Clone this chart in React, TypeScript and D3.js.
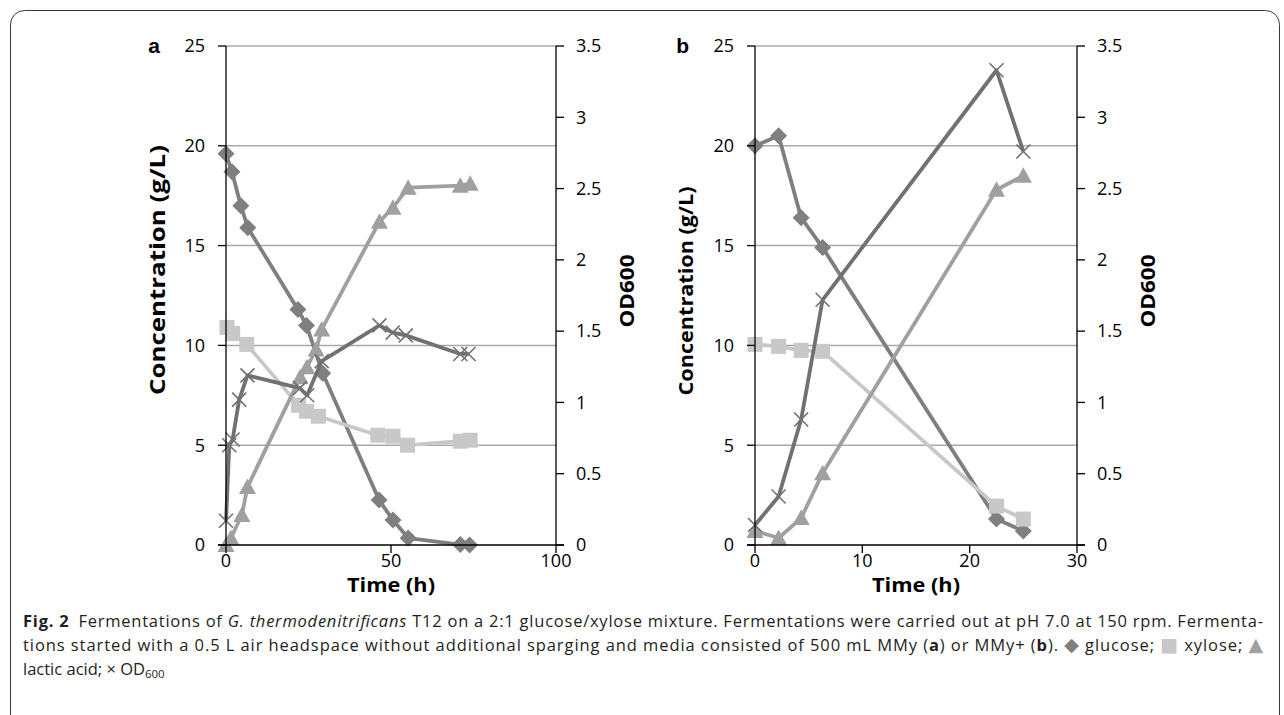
import React from 'react';
import * as d3 from 'd3';

// panel a (MMy)
const aGlucoseT = [0, 1.8, 4.5, 6.6, 21.8, 24.4, 29.3, 46.4, 50.6, 55.2, 71, 73.8];
const aGlucose = [19.6, 18.7, 17.0, 15.9, 11.8, 11.0, 8.6, 2.25, 1.25, 0.35, 0.02, 0.0];
const aXyloseT = [0.3, 2, 6.3, 22, 24.4, 28, 46, 50.6, 55, 71, 74];
const aXylose = [10.9, 10.6, 10.05, 7.0, 6.7, 6.45, 5.5, 5.45, 5.0, 5.2, 5.25];
const aLacticT = [0, 1.5, 4.8, 6.5, 22.5, 24.5, 27.3, 29, 46.5, 50.6, 55.2, 71, 74];
const aLactic = [0, 0.35, 1.5, 2.9, 8.4, 8.9, 9.8, 10.8, 16.2, 16.9, 17.9, 18.0, 18.1];
const aOdT = [0, 1, 2, 4, 6.5, 22.4, 24.6, 29, 46.5, 50.5, 54.5, 71, 73.5];
const aOd = [0.17, 0.7, 0.74, 1.02, 1.19, 1.1, 1.05, 1.29, 1.54, 1.49, 1.47, 1.34, 1.34];

// panel b (MMy+)
const bTime = [0, 2.2, 4.3, 6.3, 22.5, 25];
const bGlucose = [20.0, 20.5, 16.4, 14.9, 1.3, 0.7];
const bXylose = [10.05, 9.95, 9.75, 9.7, 1.95, 1.3];
const bLactic = [0.7, 0.35, 1.35, 3.6, 17.8, 18.5];
const bOd = [0.14, 0.34, 0.88, 1.72, 3.33, 2.76];

const concTicks = [0, 5, 10, 15, 20, 25];
const odTicks = [0, 0.5, 1, 1.5, 2, 2.5, 3, 3.5];
const aTimeTicks = [0, 50, 100];
const bTimeTicks = [0, 10, 20, 30];

const FONT = "'Open Sans', sans-serif";
const C_GLU = '#7f7f7f';
const C_XYL = '#c8c8c8';
const C_LAC = '#a0a0a0';
const C_OD = '#717171';

const TOP = 46;
const BOTTOM = 545;

const zip = (t: number[], v: number[]) => t.map((d, i) => [d, v[i]] as [number, number]);

function Marker({ kind, color }: { kind: string; color: string }) {
  if (kind === 'diamond') return <path d="M0,-8.5L8.5,0L0,8.5L-8.5,0Z" fill={color} />;
  if (kind === 'square') return <rect x={-7.5} y={-7.5} width={15} height={15} fill={color} />;
  if (kind === 'triangle') return <path d="M0,-8.5L8.5,7L-8.5,7Z" fill={color} />;
  return <path d="M-7,-7L7,7M-7,7L7,-7" stroke={color} strokeWidth={1.6} fill="none" />;
}

function Panel({ label, left, right, xMax, xTicks, series, concSize, concLen, concY }: any) {
  const x = d3.scaleLinear().domain([0, xMax]).range([left, right]);
  const y = d3.scaleLinear().domain([0, 25]).range([BOTTOM, TOP]);
  const y2 = d3.scaleLinear().domain([0, 3.5]).range([BOTTOM, TOP]);
  const mid = (left + right) / 2;

  return (
    <g fontFamily={FONT}>
      {concTicks.slice(1).map(t => (
        <line key={t} x1={left} x2={right} y1={y(t)} y2={y(t)} stroke="#a9a9a9" strokeWidth={1.5} />
      ))}
      {series.map((s: any, i: number) => {
        const sy = s.od ? y2 : y;
        const line = d3.line<[number, number]>().x(d => x(d[0])).y(d => sy(d[1]));
        return (
          <g key={i}>
            <path d={line(s.data) || ''} fill="none" stroke={s.lineColor} strokeWidth={3.8} strokeLinejoin="round" />
            {s.data.map((d: [number, number], j: number) => (
              <g key={j} transform={`translate(${x(d[0])},${sy(d[1])})`}>
                <Marker kind={s.kind} color={s.color} />
              </g>
            ))}
          </g>
        );
      })}
      <line x1={left} x2={left} y1={BOTTOM} y2={TOP} stroke="#000" strokeWidth={1.3} />
      <line x1={right} x2={right} y1={BOTTOM} y2={TOP} stroke="#000" strokeWidth={1.3} />
      <line x1={left - 8} x2={right + 8} y1={BOTTOM} y2={BOTTOM} stroke="#000" strokeWidth={1.3} />
      {concTicks.map(t => (
        <g key={t}>
          <line x1={left - 8} x2={left} y1={y(t)} y2={y(t)} stroke="#000" strokeWidth={1.3} />
          <text x={left - 21} y={y(t)} dy="0.35em" textAnchor="end" fontSize={18}>{t}</text>
        </g>
      ))}
      {odTicks.map(t => (
        <g key={t}>
          <line x1={right} x2={right + 8} y1={y2(t)} y2={y2(t)} stroke="#000" strokeWidth={1.3} />
          <text x={right + 20} y={y2(t)} dy="0.35em" textAnchor="start" fontSize={18}>{t}</text>
        </g>
      ))}
      {xTicks.map((t: number) => (
        <g key={t}>
          <line x1={x(t)} x2={x(t)} y1={BOTTOM} y2={BOTTOM + 8} stroke="#000" strokeWidth={1.3} />
          <text x={x(t)} y={561} dy="0.35em" textAnchor="middle" fontSize={18}>{t}</text>
        </g>
      ))}
      <text x={left - 66} y={TOP} dy="0.35em" textAnchor="end" fontSize={21} fontWeight="bold" fontFamily="'Liberation Sans', Arial, sans-serif">{label}</text>
      <text transform={`translate(${left - 69},${concY}) rotate(-90)`} dy="0.35em" textAnchor="middle" fontSize={concSize} fontWeight="bold" textLength={concLen} lengthAdjust="spacingAndGlyphs">Concentration (g/L)</text>
      <text transform={`translate(${right + 71},291) rotate(-90)`} dy="0.35em" textAnchor="middle" fontSize={20} fontWeight="bold" textLength={73} lengthAdjust="spacingAndGlyphs">OD600</text>
      <text x={mid} y={585} dy="0.35em" textAnchor="middle" fontSize={20} fontWeight="bold" textLength={88} lengthAdjust="spacingAndGlyphs">Time (h)</text>
    </g>
  );
}

export default function App() {
  const seriesA = [
    { kind: 'diamond', color: C_GLU, lineColor: C_GLU, data: zip(aGlucoseT, aGlucose) },
    { kind: 'square', color: C_XYL, lineColor: C_XYL, data: zip(aXyloseT, aXylose) },
    { kind: 'triangle', color: C_LAC, lineColor: C_LAC, data: zip(aLacticT, aLactic) },
    { kind: 'cross', color: C_OD, lineColor: C_OD, od: true, data: zip(aOdT, aOd) },
  ];
  const seriesB = [
    { kind: 'diamond', color: C_GLU, lineColor: C_GLU, data: zip(bTime, bGlucose) },
    { kind: 'square', color: C_XYL, lineColor: C_XYL, data: zip(bTime, bXylose) },
    { kind: 'triangle', color: C_LAC, lineColor: C_LAC, data: zip(bTime, bLactic) },
    { kind: 'cross', color: C_OD, lineColor: C_OD, od: true, data: zip(bTime, bOd) },
  ];

  return (
    <svg width={1284} height={715} style={{ position: 'absolute', left: 0, top: 0, background: '#fff' }}>
      <rect x={10.5} y={10.5} width={1269} height={740} rx={14} fill="none" stroke="#3a3a3a" strokeWidth={1} />
      <Panel label="a" left={226} right={556} xMax={100} xTicks={aTimeTicks} series={seriesA} concSize={22} concLen={250} concY={270} />
      <Panel label="b" left={755} right={1077} xMax={30} xTicks={bTimeTicks} series={seriesB} concSize={19} concLen={209} concY={291} />
      <g fontFamily={FONT} fontSize={16.5} fill="#231f20">
        <text x={23} y={627} textLength={1240} lengthAdjust="spacing">
          <tspan fontWeight="bold">Fig. 2</tspan>
          <tspan>{'\u2002Fermentations of '}</tspan>
          <tspan fontStyle="italic">G. thermodenitrificans</tspan>
          <tspan>{' T12 on a 2:1 glucose/xylose mixture. Fermentations were carried out at pH 7.0 at 150 rpm. Fermenta-'}</tspan>
        </text>
        <text x={23} y={651} textLength={1240} lengthAdjust="spacing">
          <tspan>{'tions started with a 0.5 L air headspace without additional sparging and media consisted of 500 mL MMy ('}</tspan>
          <tspan fontWeight="bold">a</tspan>
          <tspan>{') or MMy+ ('}</tspan>
          <tspan fontWeight="bold">b</tspan>
          <tspan>{'). '}</tspan>
          <tspan fill={C_GLU} fontFamily="'DejaVu Sans'" fontSize={19}>{'\u25C6'}</tspan>
          <tspan>{' glucose; '}</tspan>
          <tspan fill={C_XYL} fontFamily="'DejaVu Sans'" fontSize={19}>{'\u25A0'}</tspan>
          <tspan>{' xylose; '}</tspan>
          <tspan fill={C_LAC} fontFamily="'DejaVu Sans'" fontSize={19}>{'\u25B2'}</tspan>
        </text>
        <text x={23} y={675}>
          <tspan>{'lactic acid; \u00D7 OD'}</tspan>
          <tspan fontSize={11.5} dy={3}>600</tspan>
        </text>
      </g>
    </svg>
  );
}
